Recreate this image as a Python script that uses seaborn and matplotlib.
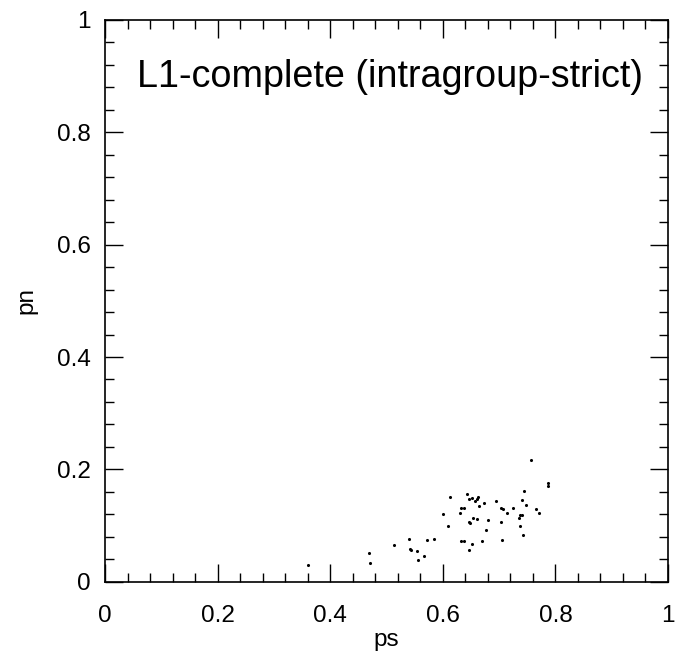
import matplotlib
matplotlib.use("Agg")
import matplotlib.pyplot as plt
import seaborn as sns
import pandas as pd
from matplotlib.ticker import MultipleLocator, FuncFormatter

ps = [0.360, 0.469, 0.470, 0.514, 0.540, 0.541, 0.544, 0.554, 0.556, 0.567,
      0.572, 0.585, 0.600, 0.609, 0.613, 0.630, 0.632, 0.637, 0.633, 0.637,
      0.643, 0.646, 0.652, 0.658, 0.660, 0.663, 0.673, 0.665, 0.647, 0.649,
      0.653, 0.661, 0.681, 0.677, 0.652, 0.647, 0.669,
      0.694, 0.703, 0.704, 0.707, 0.7135, 0.705, 0.725, 0.735, 0.738, 0.740,
      0.738, 0.7425, 0.741, 0.745, 0.748, 0.757, 0.766, 0.770, 0.787, 0.7875]
pn = [0.030, 0.0505, 0.034, 0.065, 0.0754, 0.0576, 0.057, 0.055, 0.0386, 0.0457,
      0.0748, 0.0765, 0.120, 0.100, 0.151, 0.122, 0.0724, 0.0724, 0.131, 0.132,
      0.157, 0.148, 0.149, 0.143, 0.148, 0.150, 0.1395, 0.135, 0.107, 0.104,
      0.113, 0.112, 0.110, 0.092, 0.068, 0.057, 0.073,
      0.143, 0.1057, 0.1306, 0.129, 0.1217, 0.0747, 0.132, 0.114, 0.119, 0.119,
      0.100, 0.083, 0.145, 0.162, 0.136, 0.2165, 0.129, 0.1217, 0.175, 0.170]

title_text = "L1-complete (intragroup-strict)"
x_label = "ps"
y_label = "pn"

sns.set_style("white")
plt.rcParams['font.family'] = ['Liberation Sans', 'DejaVu Sans']
plt.rcParams['text.color'] = 'black'
plt.rcParams['axes.labelcolor'] = 'black'
plt.rcParams['xtick.color'] = 'black'
plt.rcParams['ytick.color'] = 'black'

df = pd.DataFrame({"ps": ps, "pn": pn})

fig = plt.figure(figsize=(6.75, 6.6), dpi=100)
ax = fig.add_axes([105/675, 1 - 581.7/660, 563/675, (581.7 - 20)/660])

sns.scatterplot(data=df, x="ps", y="pn", ax=ax, color="black", s=5,
                marker="o", linewidth=0, legend=False)

ax.set_xlim(0, 1)
ax.set_ylim(0, 1)
ax.xaxis.set_major_locator(MultipleLocator(0.2))
ax.xaxis.set_minor_locator(MultipleLocator(0.04))
ax.yaxis.set_major_locator(MultipleLocator(0.2))
ax.yaxis.set_minor_locator(MultipleLocator(0.04))
fmt = FuncFormatter(lambda v, p: "%g" % round(v, 3))
ax.xaxis.set_major_formatter(fmt)
ax.yaxis.set_major_formatter(fmt)

for s in ax.spines.values():
    s.set_visible(True)
    s.set_color("black")
    s.set_linewidth(1.2)

ax.tick_params(which="both", direction="in", top=True, right=True,
               bottom=True, left=True, color="black", labelcolor="black",
               width=1.0)
ax.tick_params(which="major", length=13)
ax.tick_params(which="minor", length=6.5)
ax.tick_params(axis="x", which="major", labelsize=17.5, pad=17)
ax.tick_params(axis="y", which="major", labelsize=17.5, pad=10)

ax.set_xlabel(x_label, fontsize=17.5, labelpad=1, color="black")
ax.set_ylabel(y_label, fontsize=17.5, labelpad=14, color="black")

ax.text(0.057, 0.880, title_text, transform=ax.transAxes, ha="left",
        va="baseline", fontsize=27.2, color="black")

fig.savefig("out.png", dpi=100)
